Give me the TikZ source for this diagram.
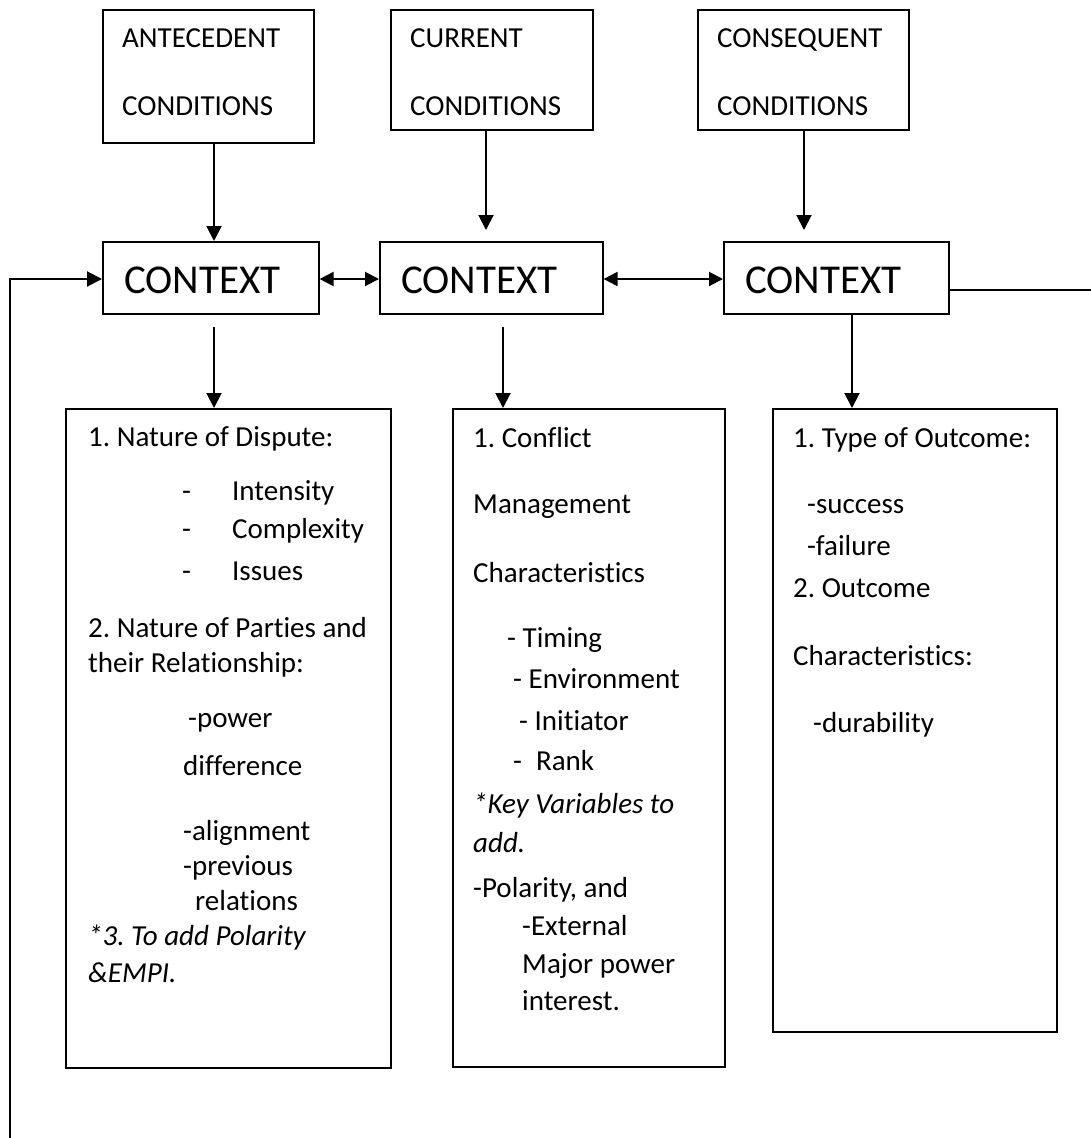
\documentclass[tikz,border=0pt]{standalone}
\usepackage{fontspec}
\setmainfont{Carlito}[Ligatures=NoCommon]
\usetikzlibrary{arrows.meta}
\frenchspacing
\begin{document}
\begin{tikzpicture}[x=1pt, y=-1pt,
        box/.style={draw, line width=1.6pt, anchor=north west, inner sep=0pt},
        link/.style={line width=2pt, -{Triangle[width=15pt,length=15pt]}},
        twoway/.style={line width=2pt, {Triangle[width=14pt,length=14pt]}-{Triangle[width=14pt,length=14pt]}},
        plain/.style={line width=2pt},
        txt/.style={anchor=base west, inner sep=0pt, align=flush left, text width=#1,
            font=\fontsize{29pt}{35pt}\selectfont},
        txt/.default=300pt,
        big/.style={anchor=base west, inner sep=0pt, font=\fontsize{41pt}{48pt}\selectfont}
    ]
    \useasboundingbox (0,0) rectangle (1091,1138);

    % Conditions along the top
    \foreach \n/\x/\w/\h/\l in {
        A/102/211/133/ANTECEDENT,
        B/390/202/120/CURRENT,
        C/697/211/120/CONSEQUENT
    } {
        \node[box, minimum width=\w pt, minimum height=\h pt] (\n) at (\x,9) {};
        \node[txt] (t\n) at (\x+20,47) {\l\\[33pt]CONDITIONS};
    }

    % Context row
    \foreach \n/\x/\w in {1/102/216, 2/379/223, 3/723/225} {
        \node[box, minimum width=\w pt, minimum height=72pt] (ctx\n) at (\x,241) {};
        \node[big] (ctxt\n) at (\x+22,293) {CONTEXT};
    }

    % Detail boxes
    \node[box, line width=2pt, minimum width=325pt, minimum height=659pt] (dispute) at (65,408) {};
    \node[box, line width=2pt, minimum width=272pt, minimum height=658pt] (manage) at (452,408) {};
    \node[box, line width=2pt, minimum width=284pt, minimum height=623pt] (outcome) at (772,408) {};

    \node[txt] (tdispute) at (88,446) {1. Nature of Dispute:\\[19pt]
        \hspace*{94pt}\makebox[50pt][l]{-}Intensity\\[3pt]
        \hspace*{94pt}\makebox[50pt][l]{-}Complexity\\[7pt]
        \hspace*{94pt}\makebox[50pt][l]{-}Issues\\[22pt]
        2. Nature of Parties and\\
        their Relationship:\\[20pt]
        \hspace*{100pt}-power\\[13pt]
        \hspace*{95pt}difference\\[30pt]
        \hspace*{95pt}-alignment\\
        \hspace*{95pt}-previous\\
        \hspace*{107pt}relations\\
        \textit{*3. To add Polarity}\\[2pt]
        \textit{\&EMPI.}};

    \node[txt=250pt] (tmanage) at (473,447) {1. Conflict\\[31pt]
        Management\\[34pt]
        Characteristics\\[30pt]
        \hspace*{34pt}- Timing\\[6pt]
        \hspace*{40pt}- Environment\\[7pt]
        \hspace*{46pt}- Initiator\\[5pt]
        \hspace*{40pt}-\hspace{14pt}Rank\\[8pt]
        \textit{*Key Variables to}\\[4pt]
        \textit{add.}\\[10pt]
        -Polarity, and\\[3pt]
        \hspace*{49pt}-External\\[3pt]
        \hspace*{49pt}Major power\\[2pt]
        \hspace*{49pt}interest.};

    \node[txt=260pt] (toutcome) at (793,447) {1. Type of Outcome:\\[31pt]
        \hspace*{14pt}-success\\[7pt]
        \hspace*{14pt}-failure\\[7pt]
        2. Outcome\\[33pt]
        Characteristics:\\[32pt]
        \hspace*{20pt}-durability};

    % Guide coordinates for the connectors
    \coordinate (xA) at (214,0);
    \coordinate (xB) at (486,0);
    \coordinate (xC) at (804,0);
    \coordinate (xM) at (503,0);
    \coordinate (xR) at (852,0);
    \coordinate (yMid) at (0,279);
    \coordinate (yOut) at (0,290);
    \coordinate (fbTop) at (10,279);
    \coordinate (fbBot) at (10,1138);
    \coordinate (rEnd) at (1091,290);

    % Connectors
    \draw[link] (A.south -| xA) -- (ctx1.north -| xA);
    \draw[link, shorten >=11pt] (B.south -| xB) -- (ctx2.north -| xB);
    \draw[link, shorten >=11pt] (C.south -| xC) -- (ctx3.north -| xC);
    \draw[link, shorten <=12pt] (ctx1.south -| xA) -- (dispute.north -| xA);
    \draw[link, shorten <=12pt] (ctx2.south -| xM) -- (manage.north -| xM);
    \draw[link] (ctx3.south -| xR) -- (outcome.north -| xR);
    \draw[twoway] (ctx1.east |- yMid) -- (ctx2.west |- yMid);
    \draw[twoway] (ctx2.east |- yMid) -- (ctx3.west |- yMid);
    \draw[plain] (ctx3.east |- yOut) -- (rEnd);
    \draw[link] (fbBot) -- (fbTop) -- (ctx1.west |- yMid);
\end{tikzpicture}
\end{document}
